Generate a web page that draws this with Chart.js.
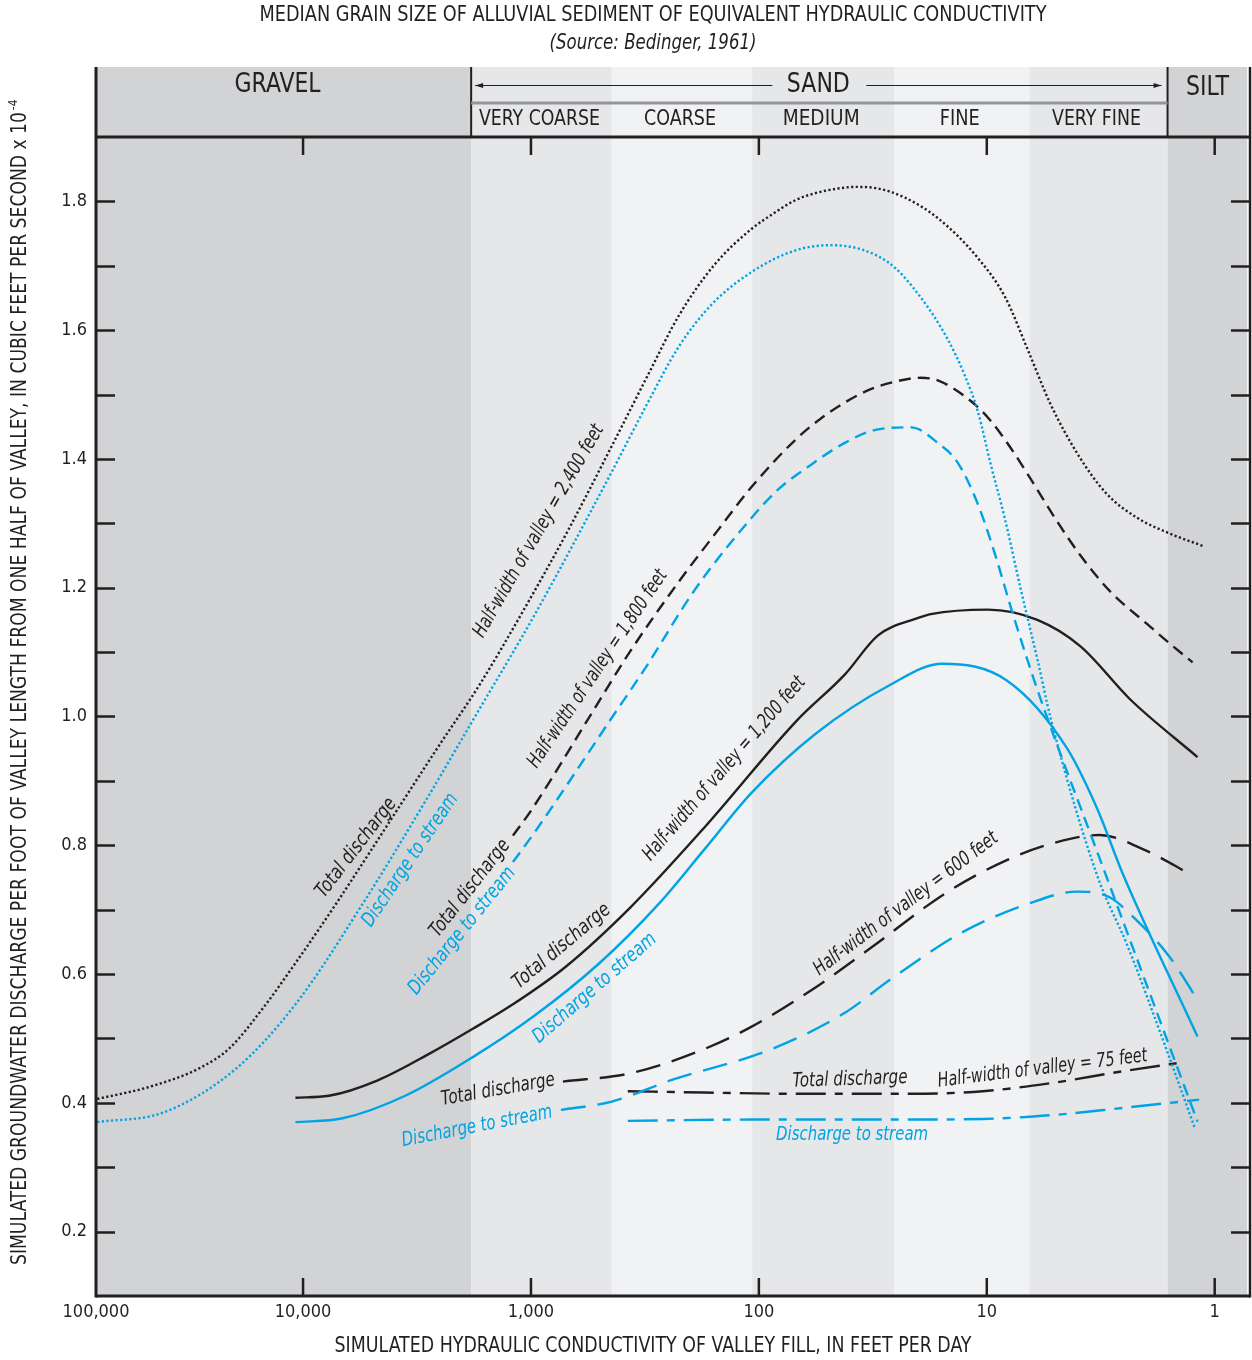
<!DOCTYPE html>
<html>
<head>
<meta charset="utf-8">
<title>Simulated groundwater discharge vs hydraulic conductivity</title>
<script src="https://cdn.jsdelivr.net/npm/chart.js@4.4.1/dist/chart.umd.min.js"></script>
<style>
  html, body { margin: 0; padding: 0; background: #fff; }
  canvas { display: block; }
</style>
</head>
<body>
<canvas id="chart" width="1252" height="1360"></canvas>
<script>
// axis range (feet per day, reversed log axis) and tick labels
const X_MIN = 0.72;
const X_MAX = 81000;
const xTickValues = [X_MAX, 10000, 1000, 100, 10, 1];
const xTickLabels = ["100,000", "10,000", "1,000", "100", "10", "1"];
const yTickValues = [0.2, 0.4, 0.6, 0.8, 1.0, 1.2, 1.4, 1.6, 1.8];
const yMinorTicks = [0.2, 0.3, 0.4, 0.5, 0.6, 0.7, 0.8, 0.9, 1.0, 1.1, 1.2, 1.3, 1.4, 1.5, 1.6, 1.7, 1.8];

// grain-size classes (Bedinger, 1961), edges in feet per day
const bandNames = ["GRAVEL", "VERY COARSE", "COARSE", "MEDIUM", "FINE", "VERY FINE", "SILT"];
const bandEdges = [X_MAX, 1830, 442, 107, 25.5, 6.5, 1.61, X_MIN];

// half-width of valley = 2,400 feet
const k2400Total = [80000, 47000, 28400, 21000, 15000, 10800, 7200, 5100, 3750, 2530, 1690, 1070, 690, 442, 304, 225, 158, 108, 86.4, 69, 54.9, 44.9, 37.8, 30, 22.9, 16.4, 11, 8.3, 6.6, 5.25, 4.0, 3.0, 2.2, 1.57, 1.11];
const q2400Total = [0.406, 0.425, 0.454, 0.485, 0.547, 0.617, 0.708, 0.789, 0.862, 0.955, 1.048, 1.167, 1.288, 1.42, 1.533, 1.622, 1.70, 1.757, 1.781, 1.802, 1.814, 1.82, 1.8225, 1.82, 1.806, 1.774, 1.713, 1.651, 1.569, 1.485, 1.408, 1.347, 1.309, 1.284, 1.264];
const k2400Stream = [80000, 41000, 19700, 10800, 5500, 2800, 1800, 960, 442, 314, 225, 161, 108, 69, 48, 27, 19.5, 14.8, 12.5, 10.95, 9.6, 8.34, 7.1, 5.98, 5.25, 3.27, 2.42, 1.66, 1.22];
const q2400Stream = [0.37, 0.385, 0.453, 0.553, 0.708, 0.878, 0.994, 1.159, 1.38, 1.481, 1.574, 1.64, 1.69, 1.724, 1.732, 1.705, 1.651, 1.585, 1.53, 1.474, 1.391, 1.308, 1.198, 1.087, 0.998, 0.752, 0.645, 0.491, 0.36];

// half-width of valley = 1,800 feet
const k1800Total = [1200, 990, 557, 372, 225, 150, 108, 69, 53.8, 41.8, 32.5, 25.3, 19.5, 16.4, 11.75, 9.6, 7.85, 6.42, 5.04, 3.88, 2.87, 1.97, 1.57, 1.25];
const q1800Total = [0.815, 0.856, 0.998, 1.098, 1.209, 1.291, 1.356, 1.43, 1.462, 1.488, 1.508, 1.520, 1.526, 1.522, 1.490, 1.459, 1.417, 1.369, 1.309, 1.250, 1.194, 1.143, 1.113, 1.084];
const k1800Stream = [1200, 960, 442, 314, 190, 108, 82, 59, 42, 30, 21.5, 16.4, 13.4, 10.95, 9.22, 7.85, 6.62, 5.57, 3.2, 2.32, 1.58, 1.19];
const q1800Stream = [0.774, 0.821, 0.998, 1.076, 1.198, 1.308, 1.353, 1.391, 1.425, 1.446, 1.449, 1.425, 1.394, 1.33, 1.253, 1.17, 1.087, 1.009, 0.780, 0.647, 0.488, 0.371];

// half-width of valley = 1,200 feet
const k1200Total = [10800, 7700, 4700, 2800, 1800, 1200, 706, 365, 173, 68, 42, 30, 20, 17.6, 9.9, 6.0, 3.88, 2.34, 1.19];
const q1200Total = [0.408, 0.411, 0.435, 0.476, 0.515, 0.553, 0.611, 0.704, 0.828, 0.994, 1.065, 1.126, 1.153, 1.159, 1.166, 1.15, 1.109, 1.026, 0.937];
const k1200Stream = [10800, 6700, 3560, 1800, 960, 504, 275, 173, 108, 56, 26.6, 15.7, 8.17, 4.47, 3.27, 2.54, 1.19];
const q1200Stream = [0.37, 0.376, 0.411, 0.471, 0.536, 0.616, 0.709, 0.794, 0.881, 0.974, 1.049, 1.082, 1.056, 0.952, 0.856, 0.757, 0.503];

// half-width of valley = 600 feet
const k600Total = [724, 365, 190, 108, 56, 31.9, 15.1, 8.17, 5.14, 3.2, 2.01, 1.25];
const q600Total = [0.433, 0.446, 0.478, 0.518, 0.58, 0.642, 0.726, 0.777, 0.803, 0.816, 0.792, 0.753];
const k600Stream = [739, 442, 239, 90, 42.3, 26.6, 13.1, 6.48, 4.04, 2.92, 2.21, 1.58, 1.19];
const q600Stream = [0.389, 0.402, 0.436, 0.482, 0.539, 0.591, 0.663, 0.71, 0.728, 0.72, 0.684, 0.627, 0.56];

// half-width of valley = 75 feet
const k75Total = [376, 173, 67.8, 21.9, 10.4, 5.14, 2.54, 1.44];
const q75Total = [0.418, 0.416, 0.414, 0.414, 0.418, 0.431, 0.449, 0.462];
const k75Stream = [376, 108, 26.6, 10.4, 5.14, 2.54, 1.17];
const q75Stream = [0.372, 0.374, 0.374, 0.375, 0.381, 0.392, 0.405];

const INK = "#231f20";
const BLUE = "#00a4e4";
const FONT = '"Liberation Sans Narrow", "DejaVu Sans Condensed", Roboto, sans-serif';
const bandFills = ["#d1d3d4", "#e6e7e8", "#f1f2f3", "#e6e7e8", "#f1f2f3", "#e6e7e8", "#d1d3d4"];
const bandLabelWidths = [86, 121, 72, 77, 40, 89, 43];

const DOT = [2.2, 2.4];
const DASH = [12, 7];
const LONG_DASH = [25, 12];
const DASH_DOT = [30, 9, 8, 9];

// curve labels: [text, K, value, angle in degrees, colour, text length]
const curveLabels = [
  ["Half-width of valley = 2,400 feet", 923, 1.288, -60, INK, 242],
  ["Total discharge", 5836, 0.796, -52.5, INK, 120],
  ["Discharge to stream", 3384, 0.777, -56, BLUE, 156],
  ["Half-width of valley = 1,800 feet", 509, 1.074, -56, INK, 234],
  ["Total discharge", 1849, 0.733, -52, INK, 118],
  ["Discharge to stream", 2004, 0.667, -51, BLUE, 158],
  ["Half-width of valley = 1,200 feet", 141.6, 0.919, -49, INK, 237],
  ["Total discharge", 732, 0.643, -40, INK, 121],
  ["Discharge to stream", 525, 0.578, -41, BLUE, 157],
  ["Half-width of valley = 600 feet", 22.6, 0.709, -37, INK, 225],
  ["Total discharge", 1394, 0.420, -10, INK, 115],
  ["Discharge to stream", 1723, 0.363, -11, BLUE, 153],
  ["Total discharge", 39.8, 0.436, -2, INK, 115],
  ["Half-width of valley = 75 feet", 5.69, 0.453, -7, INK, 211],
  ["Discharge to stream", 39, 0.350, 0, BLUE, 152]
];

function series(ks, qs, color, dash) {
  return {
    data: ks.map((k, i) => ({ x: k, y: qs[i] })),
    borderColor: color,
    borderWidth: 2.4,
    borderDash: dash,
    borderCapStyle: "butt",
    pointRadius: 0,
    fill: false,
    cubicInterpolationMode: "monotone"
  };
}

const datasets = [
  series(k2400Stream, q2400Stream, BLUE, DOT),
  series(k2400Total, q2400Total, INK, DOT),
  series(k1800Stream, q1800Stream, BLUE, DASH),
  series(k1800Total, q1800Total, INK, DASH),
  series(k1200Stream, q1200Stream, BLUE, []),
  series(k1200Total, q1200Total, INK, []),
  series(k600Stream, q600Stream, BLUE, LONG_DASH),
  series(k600Total, q600Total, INK, LONG_DASH),
  series(k75Stream, q75Stream, BLUE, DASH_DOT),
  series(k75Total, q75Total, INK, DASH_DOT)
];

function textAt(ctx, text, x, y, size, opts = {}) {
  ctx.save();
  ctx.font = `${opts.italic ? "italic " : ""}${size}px ${FONT}`;
  const w = ctx.measureText(text).width;
  const sx = opts.width ? opts.width / w : 1;
  ctx.translate(x, y);
  if (opts.angle) ctx.rotate(opts.angle * Math.PI / 180);
  ctx.scale(sx, 1);
  ctx.textAlign = "center";
  ctx.textBaseline = "middle";
  ctx.fillStyle = opts.color || INK;
  ctx.fillText(text, 0, 0);
  ctx.restore();
}

function line(ctx, x1, y1, x2, y2, w, color) {
  ctx.beginPath();
  ctx.moveTo(x1, y1);
  ctx.lineTo(x2, y2);
  ctx.lineWidth = w;
  ctx.strokeStyle = color || INK;
  ctx.stroke();
}

const HEADER_TOP = 67;

const bandsPlugin = {
  id: "bands",
  beforeDatasetsDraw(chart) {
    const { ctx, chartArea: a, scales: { x } } = chart;
    ctx.save();
    bandNames.forEach((name, i) => {
      const x1 = Math.max(x.getPixelForValue(bandEdges[i]), a.left);
      const x2 = Math.min(x.getPixelForValue(bandEdges[i + 1]), a.right);
      ctx.fillStyle = bandFills[i];
      ctx.fillRect(x1, HEADER_TOP, x2 - x1, a.bottom - HEADER_TOP);
    });
    ctx.restore();
  }
};

const framePlugin = {
  id: "frame",
  afterDraw(chart) {
    const { ctx, chartArea: a, scales: { x, y } } = chart;
    ctx.save();
    ctx.lineCap = "butt";

    // ticks point inward from the frame
    yMinorTicks.forEach(v => {
      const py = Math.round(y.getPixelForValue(v)) + 0.5;
      line(ctx, a.left, py, a.left + 19, py, 2.5);
      line(ctx, a.right - 19, py, a.right, py, 2.5);
    });
    xTickValues.slice(1).forEach(v => {
      const px = x.getPixelForValue(v);
      line(ctx, px, a.top, px, a.top + 18, 2.5);
      line(ctx, px, a.bottom, px, a.bottom - 18, 2.5);
    });

    // frame
    line(ctx, a.left, HEADER_TOP, a.left, a.bottom + 1.5, 3);
    line(ctx, a.right, HEADER_TOP, a.right, a.bottom + 1.5, 2.5);
    line(ctx, a.left, a.bottom, a.right, a.bottom, 3);
    line(ctx, a.left, a.top, a.right, a.top, 3);

    // header: grain-size classes
    const edge = i => Math.min(Math.max(x.getPixelForValue(bandEdges[i]), a.left), a.right);
    const sandL = edge(1), sandR = edge(6);
    line(ctx, sandL, HEADER_TOP, sandL, a.top, 2);
    line(ctx, sandR, HEADER_TOP, sandR, a.top, 2);
    line(ctx, sandL, 103, sandR, 103, 3, "#939598");

    const sandC = (sandL + sandR) / 2 - 1;
    textAt(ctx, bandNames[0], (edge(0) + edge(1)) / 2 - 6, 85, 26, { width: bandLabelWidths[0] });
    textAt(ctx, bandNames[6], (edge(6) + edge(7)) / 2, 88, 26, { width: bandLabelWidths[6] });
    textAt(ctx, "SAND", sandC, 85, 27, { width: 63 });
    for (let i = 1; i <= 5; i++) {
      textAt(ctx, bandNames[i], (edge(i) + edge(i + 1)) / 2 - 2, 119, 22, { width: bandLabelWidths[i] });
    }

    // SAND arrows
    const ay = 85.5;
    line(ctx, sandL + 4, ay, sandC - 46, ay, 1.2);
    line(ctx, sandC + 48, ay, sandR - 6, ay, 1.2);
    ctx.fillStyle = INK;
    ctx.beginPath();
    ctx.moveTo(sandL + 4, ay); ctx.lineTo(sandL + 12, ay - 2.5); ctx.lineTo(sandL + 12, ay + 2.5); ctx.closePath(); ctx.fill();
    ctx.beginPath();
    ctx.moveTo(sandR - 6, ay); ctx.lineTo(sandR - 14, ay - 2.5); ctx.lineTo(sandR - 14, ay + 2.5); ctx.closePath(); ctx.fill();

    // titles
    textAt(ctx, "MEDIAN GRAIN SIZE OF ALLUVIAL SEDIMENT OF EQUIVALENT HYDRAULIC CONDUCTIVITY", 653, 16, 21, { width: 787 });
    textAt(ctx, "(Source: Bedinger, 1961)", 653, 44, 21, { italic: true, width: 207 });
    textAt(ctx, "SIMULATED HYDRAULIC CONDUCTIVITY OF VALLEY FILL, IN FEET PER DAY", 653, 1347, 21, { width: 637 });

    // y-axis title with superscript exponent
    const yMain = "SIMULATED GROUNDWATER DISCHARGE PER FOOT OF VALLEY LENGTH FROM ONE HALF OF VALLEY, IN CUBIC FEET PER SECOND x 10";
    ctx.save();
    ctx.translate(21, 1265);
    ctx.rotate(-Math.PI / 2);
    ctx.font = `21px ${FONT}`;
    const mw = ctx.measureText(yMain).width;
    ctx.scale(1153 / mw, 1);
    ctx.textAlign = "left";
    ctx.textBaseline = "middle";
    ctx.fillStyle = INK;
    ctx.fillText(yMain, 0, 0);
    ctx.font = `13px ${FONT}`;
    ctx.fillText("-4", mw + 2, -7);
    ctx.restore();

    // curve labels
    curveLabels.forEach(([text, k, v, ang, col, len]) => {
      textAt(ctx, text, x.getPixelForValue(k), y.getPixelForValue(v), 20, { italic: true, angle: ang, color: col, width: len });
    });

    ctx.restore();
  }
};

new Chart(document.getElementById("chart"), {
  type: "line",
  data: { datasets },
  options: {
    responsive: false,
    animation: false,
    devicePixelRatio: 1,
    layout: { padding: { top: 137, right: 2, left: 0, bottom: 0 } },
    plugins: {
      legend: { display: false },
      tooltip: { enabled: false },
      title: { display: false }
    },
    scales: {
      x: {
        type: "logarithmic",
        reverse: true,
        min: X_MIN,
        max: X_MAX,
        grid: { display: false, drawTicks: false },
        border: { display: false },
        afterBuildTicks: s => { s.ticks = xTickValues.map(v => ({ value: v })); },
        afterFit: s => { s.height = 64; },
        ticks: {
          autoSkip: false,
          maxRotation: 0,
          minRotation: 0,
          padding: 6,
          color: INK,
          font: { family: FONT, size: 18 },
          callback: (v, i) => xTickLabels[i]
        }
      },
      y: {
        type: "linear",
        min: 0.1,
        max: 1.9,
        grid: { display: false, drawTicks: false },
        border: { display: false },
        afterBuildTicks: s => { s.ticks = yTickValues.map(v => ({ value: v })); },
        afterFit: s => { s.width = 96; },
        ticks: {
          padding: 9,
          color: INK,
          font: { family: FONT, size: 18 },
          callback: v => Number(v).toFixed(1)
        }
      }
    }
  },
  plugins: [bandsPlugin, framePlugin]
});
</script>
</body>
</html>
